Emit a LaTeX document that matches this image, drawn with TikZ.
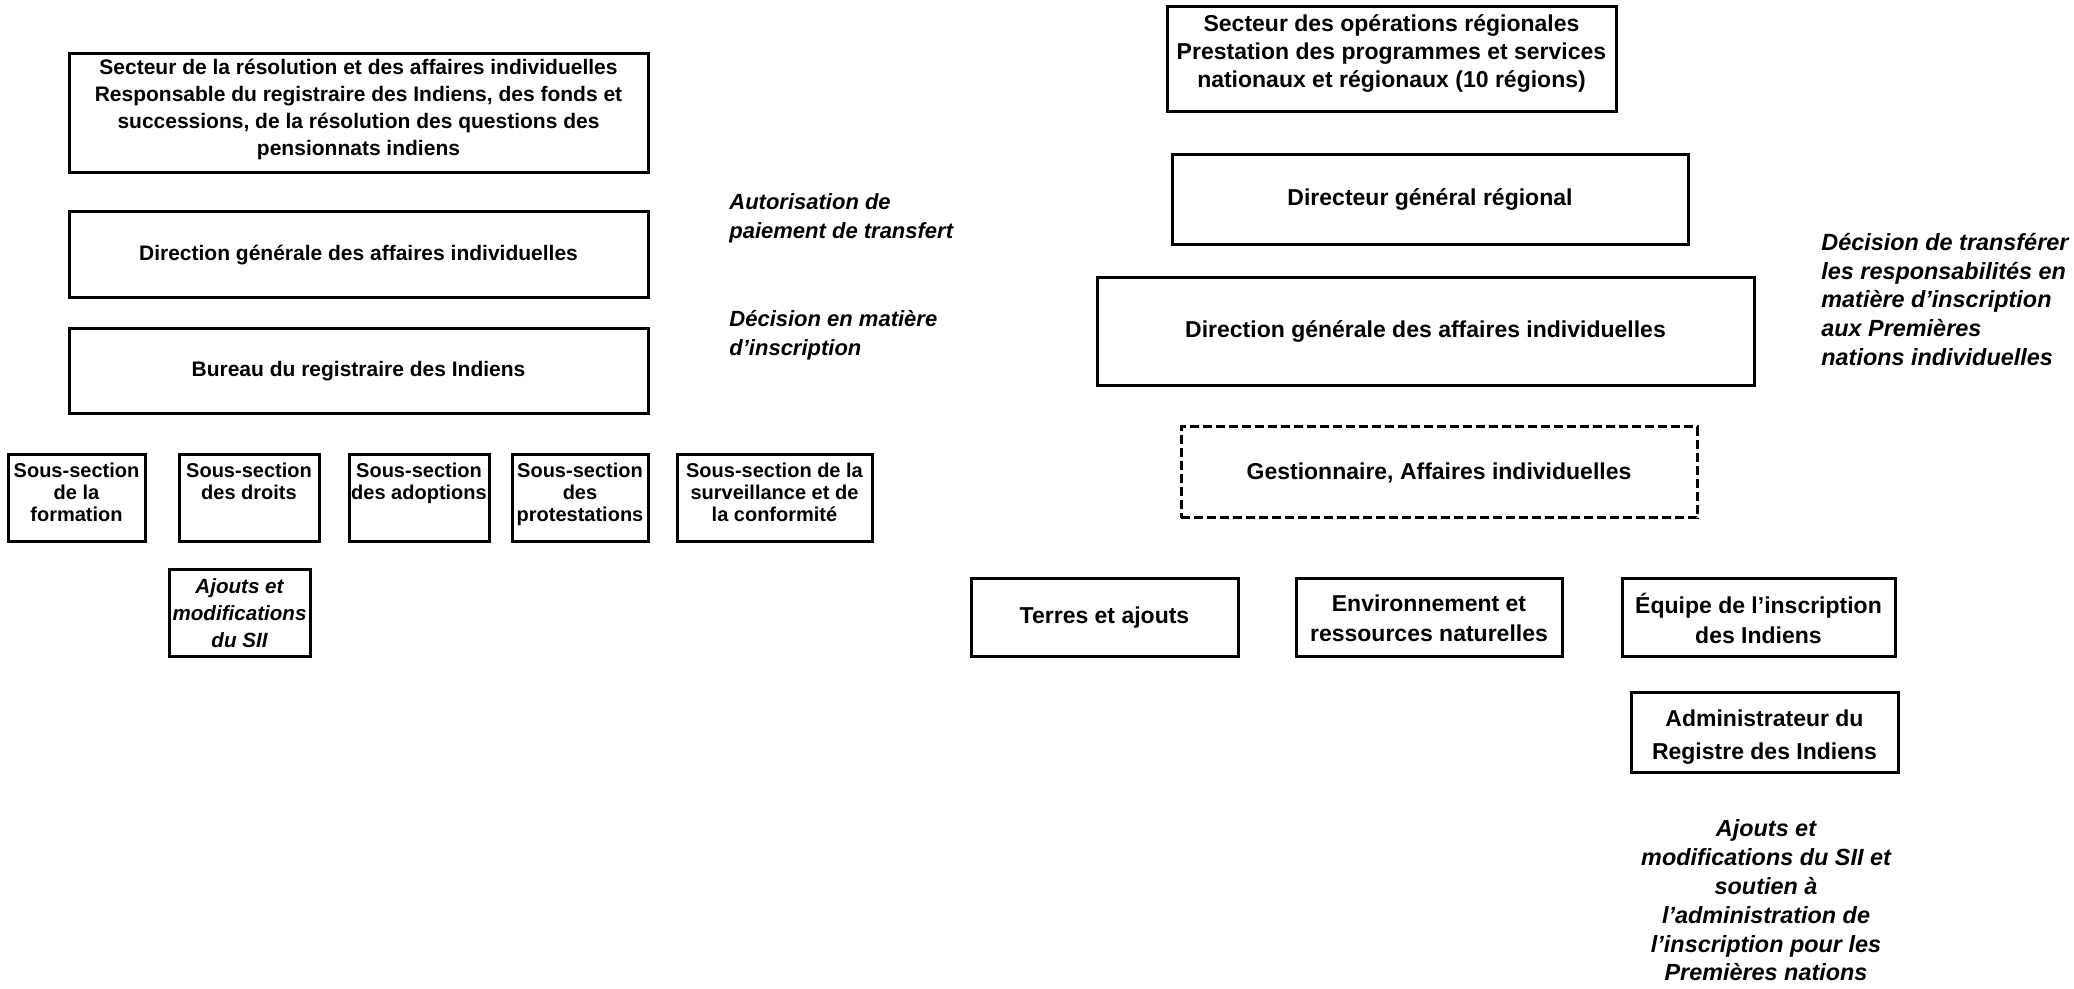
\documentclass[tikz,border=0pt]{standalone}
\usepackage{fontspec}
\setmainfont{Liberation Sans}
\begin{document}
\begin{tikzpicture}[x=0.5pt,y=-0.5pt,
  box/.style={draw, line width=1.5pt, inner sep=0pt, align=center},
  lbig/.style={box, font=\fontsize{10.5}{13.4}\selectfont\bfseries, minimum width=289.5pt},
  lsmall/.style={box, font=\fontsize{10}{11}\selectfont\bfseries, minimum height=43.5pt, text depth=6pt},
  rbox/.style={box, font=\fontsize{11.5}{14}\selectfont\bfseries},
  note/.style={inner sep=0pt, font=\fontsize{11}{14.3}\selectfont\bfseries\itshape},
  rnote/.style={inner sep=0pt, font=\fontsize{11.7}{14.4}\selectfont\bfseries\itshape}
]
\useasboundingbox (0,0) rectangle (2074,989);
% left column
\node[lbig, minimum height=59.5pt, text depth=6.2pt] (b1) at (358.5,113.5) {Secteur de la résolution et des affaires individuelles\\Responsable du registraire des Indiens, des fonds et\\successions, de la résolution des questions des\\pensionnats indiens};
\node[lbig, minimum height=43pt] (b2) at (358.5,255) {Direction générale des affaires individuelles};
\node[lbig, minimum height=42.5pt] (b3) at (358.5,371.5) {Bureau du registraire des Indiens};
\node[lsmall, minimum width=68.5pt] (sa) at (76.5,498.5) {Sous-section\\de la\\formation};
\node[lsmall, minimum width=70pt] (sb) at (249,498.5) {Sous-section\\des droits\\\strut};
\node[lsmall, minimum width=70pt] (sc) at (419,498.5) {Sous-section\\des adoptions\\\strut};
\node[lsmall, minimum width=68pt] (sd) at (580,498.5) {Sous-section\\des\\protestations};
\node[lsmall, minimum width=97.5pt] (se) at (774.5,498.5) {Sous-section de la\\surveillance et de\\la conformité};
\node[box, minimum width=70.5pt, minimum height=43.5pt, font=\fontsize{10.3}{13.5}\selectfont\bfseries\itshape] (sii) at (239.5,613.5) {Ajouts et\\modifications\\du SII};
\node[note, anchor=west, align=left] (na) at (729,218.5) {Autorisation de\\paiement de transfert};
\node[note, anchor=west, align=left] (nb) at (729,335) {Décision en matière\\d'inscription};
% right column
\node[rbox, minimum width=224.5pt, minimum height=52.5pt, text depth=8pt] (r1) at (1391.5,59.5) {Secteur des opérations régionales\\Prestation des programmes et services\\nationaux et régionaux (10 régions)};
\node[rbox, minimum width=258pt, minimum height=45pt] (r2) at (1430,200) {Directeur général régional};
\node[rbox, minimum width=328.5pt, minimum height=54pt] (r3) at (1425.5,332) {Direction générale des affaires individuelles};
\node[rbox, minimum width=258pt, minimum height=45.5pt, dash pattern=on 4.5pt off 2pt] (r4) at (1439,472.5) {Gestionnaire, Affaires individuelles};
\node[rbox, minimum width=133.5pt, minimum height=39pt] (t) at (1104.5,618) {Terres et ajouts};
\node[rbox, minimum width=133pt, minimum height=39pt, font=\fontsize{11.5}{15}\selectfont\bfseries] (e) at (1429,618) {Environnement et\\ressources naturelles};
\node[rbox, minimum width=136.5pt, minimum height=39pt, font=\fontsize{11.5}{15}\selectfont\bfseries] (q) at (1758.5,618) {Équipe de l'inscription\\des Indiens};
\node[rbox, minimum width=133.5pt, minimum height=40pt, font=\fontsize{11.5}{16.5}\selectfont\bfseries] (adm) at (1764.5,732) {\rule{0pt}{13.4pt}Administrateur du\\Registre des Indiens};
\node[rnote, anchor=west, align=left] (nd) at (1821,299.5) {Décision de transférer\\les responsabilités en\\matière d'inscription\\aux Premières\\nations individuelles};
\node[rnote, align=center] (nc) at (1766,900.5) {Ajouts et\\modifications du SII et\\soutien à\\l'administration de\\l'inscription pour les\\Premières nations};
\end{tikzpicture}
\end{document}
